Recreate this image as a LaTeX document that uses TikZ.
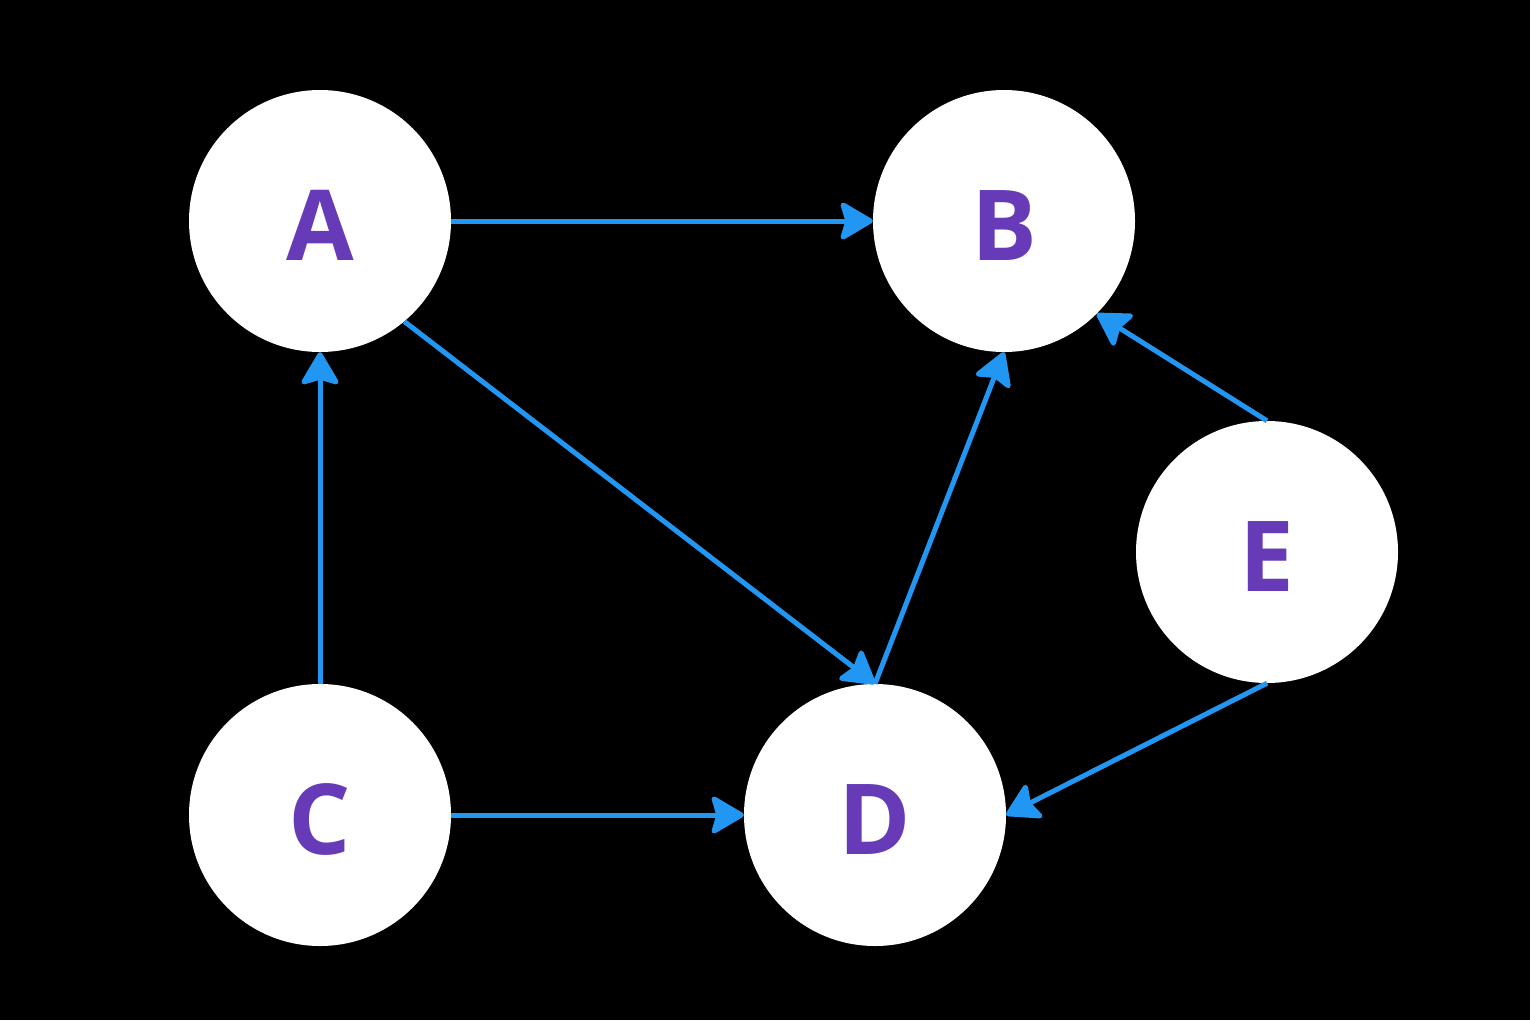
\documentclass[tikz,border=0pt]{standalone}
\usepackage{fontspec}
\setmainfont{Open Sans}
\usetikzlibrary{arrows.meta}
\definecolor{edgeblue}{HTML}{2196F3}
\definecolor{labelpurple}{HTML}{673AB7}
\begin{document}
\begin{tikzpicture}[x=1pt,y=-1pt,
  vertex/.style={circle,fill=white,draw=none,minimum size=262pt,inner sep=0pt,
    text height=78pt,text depth=0pt,
    font=\fontsize{98}{98}\selectfont\bfseries,text=labelpurple},
  edge/.style={draw=edgeblue,line width=5pt,
    -{Stealth[length=36pt,width=42pt,inset=6pt,round]}}]
\fill[black] (0,0) rectangle (1530,1020);
\useasboundingbox (0,0) rectangle (1530,1020);
\node[vertex] (A) at (320,221) {A};
\node[vertex] (B) at (1004,221) {B};
\node[vertex] (C) at (320,815) {C};
\node[vertex] (D) at (875,815) {D};
\node[vertex] (E) at (1267,552) {E};
\draw[edge] (A.east) -- (B.west);
\draw[edge] (A.-50) -- (D.north);
\draw[edge] (D.north) -- (B.south);
\draw[edge] (C.north) -- (A.south);
\draw[edge] (C.east) -- (D.west);
\draw[edge] (E.north) -- (B.south east);
\draw[edge] (E.south) -- (D.east);
\end{tikzpicture}
\end{document}
